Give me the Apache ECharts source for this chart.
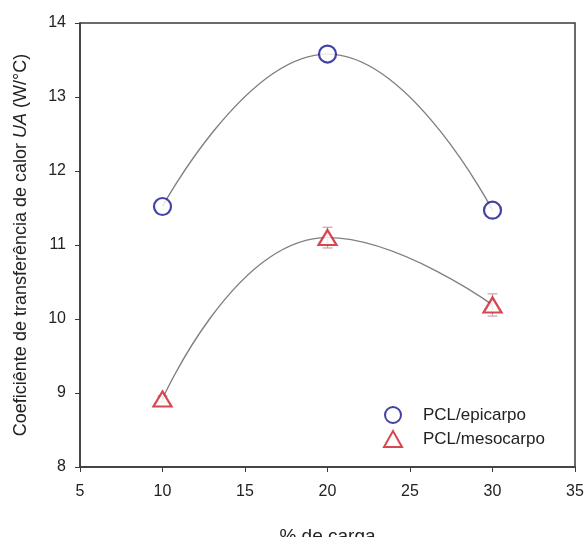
<!DOCTYPE html>
<html>
<head>
<meta charset="utf-8">
<script src="https://cdn.jsdelivr.net/npm/echarts@6/dist/echarts.min.js"></script>
<style>
  html, body { margin: 0; padding: 0; background: #fff; overflow: hidden; }
  #chart { width: 584px; height: 537px; }
</style>
</head>
<body>
<div id="chart"></div>
<script>
// Filler loading (% de carga) and the measured UA coefficient for each composite
const loadings = [10, 20, 30];
const epicarpoUA = [11.52, 13.58, 11.47];
const mesocarpoUA = [8.92, 11.10, 10.19];
const mesocarpoErr = [0.04, 0.14, 0.15];
const xTicks = [5, 10, 15, 20, 25, 30, 35];
const yTicks = [8, 9, 10, 11, 12, 13, 14];

const pairs = (xs, ys) => xs.map((x, i) => [x, ys[i]]);

const font = '"Liberation Sans", Arial, sans-serif';
const chart = echarts.init(document.getElementById('chart'), null, { renderer: 'canvas' });

chart.setOption({
  backgroundColor: '#ffffff',
  animation: false,
  grid: {
    left: 80, right: 9, top: 23, bottom: 70,
    containLabel: false, outerBoundsMode: 'none',
    show: true, borderColor: '#3a3a3a', borderWidth: 1.5, backgroundColor: 'transparent'
  },
  legend: {
    left: 383, top: 406, orient: 'vertical', itemGap: 6, padding: 0,
    itemWidth: 18, itemHeight: 16,
    textStyle: { fontFamily: font, fontSize: 17, color: '#222', lineHeight: 16, padding: [0, 0, 0, 16] },
    data: ['PCL/epicarpo', 'PCL/mesocarpo']
  },
  xAxis: {
    type: 'value', min: xTicks[0], max: xTicks[xTicks.length - 1], interval: 5,
    name: '% de carga', nameLocation: 'middle', nameGap: 60,
    nameTextStyle: { fontFamily: font, fontSize: 19, color: '#222' },
    axisLine: { show: true, lineStyle: { color: '#3a3a3a', width: 1.5 } },
    axisTick: { show: true, inside: false, length: 5, lineStyle: { color: '#3a3a3a' } },
    axisLabel: { fontFamily: font, fontSize: 16, color: '#222', margin: 17 },
    splitLine: { show: false }
  },
  yAxis: {
    type: 'value', min: yTicks[0], max: yTicks[yTicks.length - 1], interval: 1,
    name: '{n|Coeficiênte de transferência de calor }{i|UA}{n| (W/°C)}',
    nameLocation: 'middle', nameGap: 50, nameRotate: 90,
    nameTextStyle: {
      fontFamily: font, fontSize: 18, color: '#222',
      rich: {
        n: { fontFamily: font, fontSize: 18, color: '#222' },
        i: { fontFamily: font, fontSize: 18, color: '#222', fontStyle: 'italic' }
      }
    },
    axisLine: { show: true, lineStyle: { color: '#3a3a3a', width: 1.5 } },
    axisTick: { show: true, inside: false, length: 5, lineStyle: { color: '#3a3a3a' } },
    axisLabel: { fontFamily: font, fontSize: 16, color: '#222', margin: 14 },
    splitLine: { show: false }
  },
  series: [
    {
      name: 'epicarpo-curve', type: 'line', data: pairs(loadings, epicarpoUA),
      smooth: 0.5, showSymbol: false, silent: true, z: 1,
      lineStyle: { color: '#808080', width: 1.4 }
    },
    {
      name: 'mesocarpo-curve', type: 'line', data: pairs(loadings, mesocarpoUA),
      smooth: 0.5, showSymbol: false, silent: true, z: 1,
      lineStyle: { color: '#808080', width: 1.4 }
    },
    {
      name: 'mesocarpo-err', type: 'custom', z: 2, silent: true,
      data: loadings.map((x, i) => [x, mesocarpoUA[i] - mesocarpoErr[i], mesocarpoUA[i] + mesocarpoErr[i]]),
      renderItem: function (params, api) {
        const lo = api.coord([api.value(0), api.value(1)]);
        const hi = api.coord([api.value(0), api.value(2)]);
        const w = 5;
        const style = { stroke: '#c9a3ad', lineWidth: 1.2 };
        return {
          type: 'group',
          children: [
            { type: 'line', shape: { x1: lo[0], y1: lo[1], x2: hi[0], y2: hi[1] }, style },
            { type: 'line', shape: { x1: lo[0] - w, y1: lo[1], x2: lo[0] + w, y2: lo[1] }, style },
            { type: 'line', shape: { x1: hi[0] - w, y1: hi[1], x2: hi[0] + w, y2: hi[1] }, style }
          ]
        };
      }
    },
    {
      name: 'PCL/epicarpo', type: 'scatter', data: pairs(loadings, epicarpoUA), z: 3,
      symbol: 'circle', symbolSize: 17,
      itemStyle: { color: '#ffffff', borderColor: '#14148c', borderWidth: 2.2 }
    },
    {
      name: 'PCL/mesocarpo', type: 'scatter', data: pairs(loadings, mesocarpoUA), z: 3,
      symbol: 'triangle', symbolSize: [18, 15],
      itemStyle: { color: '#ffffff', borderColor: '#cc1a26', borderWidth: 2.2 }
    }
  ]
});
</script>
</body>
</html>
